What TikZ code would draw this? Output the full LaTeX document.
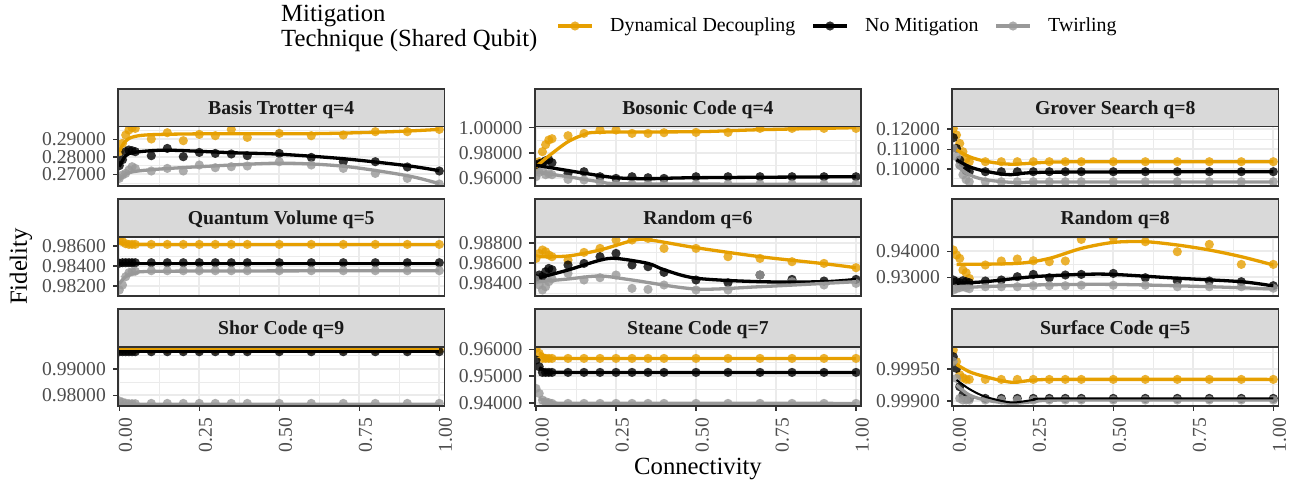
\documentclass[tikz,border=0pt]{standalone}
\usepackage{fontspec}
\setmainfont{Liberation Serif}

\definecolor{ddorange}{HTML}{E69F00}
\definecolor{twgray}{HTML}{999999}
\definecolor{gridgray}{HTML}{EBEBEB}
\definecolor{stripgray}{HTML}{D9D9D9}
\definecolor{framegray}{HTML}{333333}
\definecolor{labelgray}{HTML}{4D4D4D}

% connectivity values of the measured points
\newcommand{\connlist}{{0,0.01,0.02,0.03,0.04,0.05,0.1,0.15,0.2,0.25,0.3,0.35,0.4,0.5,0.6,0.7,0.8,0.9,1}}
\newcommand{\pointrow}[2]{%
  \foreach \v [count=\i from 0] in {#2} {%
    \pgfmathsetmacro{\cval}{\connlist[\i]}%
    \fill[#1] (\cval,\v) circle[radius=4.6pt];}}

\begin{document}
\begin{tikzpicture}[
      x=1pt, y=-1pt,
      every node/.style={inner sep=0pt},
      ticklabel/.style={font=\fontsize{19.6}{22}\selectfont, text=labelgray},
      striptext/.style={font=\fontsize{19.7}{22}\selectfont\bfseries, text=black!90},
      titletext/.style={font=\fontsize{24.7}{28}\selectfont},
      legendtext/.style={font=\fontsize{19.9}{22}\selectfont},
      panel at/.style 2 args={xshift=#1pt, yshift=-#2pt, x=320pt, y=-1pt},
      majorgrid/.style={draw=gridgray, line width=2pt},
      minorgrid/.style={draw=gridgray, line width=1pt},
      stripbox/.style={fill=stripgray, draw=framegray, line width=1.6pt},
      panelframe/.style={draw=framegray, line width=1.6pt},
      tickmark/.style={draw=framegray, line width=1.6pt},
      ddpt/.style={fill=ddorange, fill opacity=0.8},
      nmpt/.style={fill=black, fill opacity=0.8},
      twpt/.style={fill=twgray, fill opacity=0.8},
      ddline/.style={draw=ddorange, line width=3.3pt},
      nmline/.style={draw=black, line width=3.3pt},
      twline/.style={draw=twgray, line width=3.3pt}
]
\fill[white] (0,0) rectangle (1300,484);
\useasboundingbox (0,0) rectangle (1300,484);

% legend
\node[titletext, anchor=base west] (legtitle1) at (281,21.7) {Mitigation};
\node[titletext, anchor=base west] (legtitle2) at (281,46.7) {Technique (Shared Qubit)};
\draw[ddline] (558,26) -- (592,26);
\fill[ddpt] (575,26) circle[radius=4.6pt];
\node[legendtext, anchor=base west] (leg-dd) at (610,31.7) {Dynamical Decoupling};
\draw[nmline] (813,26) -- (847,26);
\fill[nmpt] (830,26) circle[radius=4.6pt];
\node[legendtext, anchor=base west] (leg-nm) at (865,31.7) {No Mitigation};
\draw[twline] (996,26) -- (1030,26);
\fill[twpt] (1013,26) circle[radius=4.6pt];
\node[legendtext, anchor=base west] (leg-tw) at (1048,31.7) {Twirling};

% panels: background, grid, strip, y axis
\foreach \name/\ox/\oy/\title/\ticks/\minor in {
  bt/119.3/126.7/{Basis Trotter q=4}/{12.6/0.29000,30.1/0.28000,47.6/0.27000}/{3.85,21.35,38.85,56.35},
  bc/536/126.7/{Bosonic Code q=4}/{1/1.00000,26/0.98000,51/0.96000}/{13.5,38.5},
  gs/953.3/126.7/{Grover Search q=8}/{2.6/0.12000,22.6/0.11000,42.3/0.10000}/{12.6,32.5,52.2},
  qv/119.3/236.7/{Quantum Volume q=5}/{9.3/0.98600,29.3/0.98400,49.3/0.98200}/{19.3,39.3},
  rs/536/236.7/{Random q=6}/{6/0.98800,26.3/0.98600,46.6/0.98400}/{16.1,36.4,56.8},
  re/953.3/236.7/{Random q=8}/{14.6/0.94000,40.6/0.93000}/{1.6,27.6,53.6},
  sh/119.3/346.7/{Shor Code q=9}/{22/0.99000,48.6/0.98000}/{8.7,35.3},
  st/536/346.7/{Steane Code q=7}/{2.6/0.96000,29.3/0.95000,56/0.94000}/{16,42.6},
  su/953.3/346.7/{Surface Code q=5}/{22/0.99950,54/0.99900}/{6,38}} {
  \begin{scope}[panel at={\ox}{\oy}]
    \fill[white] (-0.004,0) rectangle (1.016,59);
    \foreach \g in {0.125,0.375,0.625,0.875} \draw[minorgrid] (\g,0) -- (\g,59);
    \foreach \g in \minor \draw[minorgrid] (-0.004,\g) -- (1.016,\g);
    \foreach \g in {0,0.25,0.5,0.75,1} \draw[majorgrid] (\g,0) -- (\g,59);
    \foreach \o/\l [count=\k] in \ticks {
      \draw[majorgrid] (-0.004,\o) -- (1.016,\o);
      \draw[tickmark] (-0.004,\o) -- ++(-5.5pt,0);
      \node[ticklabel, anchor=east, xshift=-12pt] (\name-y\k) at (-0.004,\o) {\l};
    }
    \draw[stripbox] (-0.004,-37.7) rectangle (1.016,0);
    \node[striptext, anchor=base] (\name-title) at (0.506,-12.7) {\title};
  \end{scope}
}

% Basis Trotter q=4
\begin{scope}[panel at={119.3}{126.7}]
  \clip (-0.004,0) rectangle (1.016,59);
  \pointrow{ddpt}{25,16.7,8.3,3.3,1,1.7,12.3,6,14,7.7,9,2.7,10.7,6.7,9,8.3,5,5,2.7}
  \pointrow{nmpt}{39,33,25,23.3,24,25,29,21.7,30,25.7,26.7,27.3,29,26.7,30.7,35,35,40.3,44.3}
  \pointrow{twpt}{51.7,48.3,46.7,43.3,40,41.7,44.3,41.7,44.3,38.3,41,40,39.3,35,38.3,41.7,46.7,51.7,57.3}
  \draw[ddline] plot[smooth] coordinates {(0,25) (0.015,16) (0.04,10.5) (0.1,8) (0.3,7) (0.6,7) (0.85,5) (1,2.7)};
  \draw[nmline] plot[smooth] coordinates {(0,40) (0.02,29) (0.05,25.5) (0.15,23.5) (0.35,26) (0.5,27.5) (0.7,32) (0.9,39) (1,44)};
  \draw[twline] plot[smooth] coordinates {(0,53) (0.03,46) (0.1,43) (0.25,40) (0.5,36.5) (0.7,39.5) (0.9,49) (1,57)};
\end{scope}

% Bosonic Code q=4
\begin{scope}[panel at={536}{126.7}]
  \clip (-0.004,0) rectangle (1.016,59);
  \pointrow{ddpt}{40,35,25,18,13.3,12,9,6.7,3.3,3.3,6.7,6.7,6,5.7,5.7,1.7,1.7,1.7,1.7}
  \pointrow{nmpt}{38.3,37,36,34,33,36,46.7,45,50,51.7,50,51,51.7,50,50,50,50,50,50}
  \pointrow{twpt}{50,45.7,43.3,48,47,48,52.7,53.3,55.7,57.3,57.3,57.3,57.3,57.3,57.3,57.3,57.3,57.3,57.3}
  \draw[ddline] plot[smooth] coordinates {(0,40) (0.045,28) (0.1,15) (0.15,8) (0.2,5.5) (0.5,5) (0.7,3) (1,1)};
  \draw[nmline] plot[smooth] coordinates {(0,38.5) (0.15,46.5) (0.25,51) (0.35,52) (0.5,51) (1,50)};
  \draw[twline] plot[smooth] coordinates {(0,45.5) (0.1,50) (0.2,55) (0.3,57.2) (1,57.5)};
\end{scope}

% Grover Search q=8
\begin{scope}[panel at={953.3}{126.7}]
  \clip (-0.004,0) rectangle (1.016,59);
  \pointrow{ddpt}{1.7,8.3,16.7,25,32,35,35,35,35,35,35,35,35,35,35,35,35,35,35}
  \pointrow{nmpt}{11,21.7,33.3,40,44,45,45,45,45,45,45,45,45,45,45,45,45,45,45}
  \pointrow{twpt}{21.7,30,38.3,48,53,55,55,55,55,55,55,55,55,55,55,55,55,55,55}
  \draw[ddline] plot[smooth] coordinates {(0.01,23) (0.05,30) (0.1,34.5) (0.18,37.5) (0.3,35.5) (0.45,35) (1,35)};
  \draw[nmline] plot[smooth] coordinates {(0.01,33) (0.05,40) (0.1,44.5) (0.18,48) (0.3,45.5) (1,45)};
  \draw[twline] plot[smooth] coordinates {(0.01,39) (0.05,48) (0.1,53) (0.2,56) (0.3,55.3) (1,55.3)};
\end{scope}

% Quantum Volume q=5
\begin{scope}[panel at={119.3}{236.7}]
  \clip (-0.004,0) rectangle (1.016,59);
  \pointrow{ddpt}{2.3,5,7,7.7,7.7,7.7,7.7,7.7,7.7,7.7,7.7,7.7,7.7,7.7,7.7,7.7,7.7,7.7,7.7}
  \pointrow{nmpt}{26.5,26,26,26,26,26,26,26,26,26,26,26,26,26,26,26,26,26,26}
  \pointrow{twpt}{53.3,48.3,40,36,35,34.5,34,34,34,34,34,34,34,34,34,34,34,34,34}
  \draw[ddline] plot[smooth] coordinates {(0,6) (0.03,7.5) (0.1,7.7) (1,7.7)};
  \draw[nmline] plot[smooth] coordinates {(0,26.5) (1,26.5)};
  \draw[twline] plot[smooth] coordinates {(0,47) (0.02,40) (0.05,36.5) (0.15,34.5) (1,34)};
\end{scope}

% Random q=6
\begin{scope}[panel at={536}{236.7}]
  \clip (-0.004,0) rectangle (1.016,59);
  \pointrow{ddpt}{21.7,16.7,13.3,15,18.3,20,23.3,15.7,11.7,3.3,3.3,1.7,11.7,11.7,20,21.7,25,26.7,31}
  \pointrow{nmpt}{41.7,38.3,40,35,31.7,33,28.3,26.7,20,16.7,28.3,30,35.7,43.3,46,38.3,42.7,44.3,42.7}
  \pointrow{twpt}{43.3,48.3,53.3,50,45,42,36.7,43.3,41,38.3,51.7,52.7,48.3,53.3,53.3,38.3,45,48.3,46.7}
  \draw[ddline] plot[smooth] coordinates {(0.01,20) (0.1,19.3) (0.2,13.3) (0.3,4) (0.35,3) (0.5,11) (0.7,20) (0.9,27) (1,31)};
  \draw[nmline] plot[smooth] coordinates {(0.01,41) (0.1,33.3) (0.2,23.5) (0.25,21.7) (0.35,26.7) (0.4,33) (0.5,41.5) (0.7,45) (0.9,45) (1,42.7)};
  \draw[twline] plot[smooth] coordinates {(0.01,45) (0.1,42.3) (0.2,39.3) (0.3,43.3) (0.5,52.3) (0.7,50) (1,45)};
\end{scope}

% Random q=8
\begin{scope}[panel at={953.3}{236.7}]
  \clip (-0.004,0) rectangle (1.016,59);
  \pointrow{ddpt}{13.3,18.3,21.7,33.3,36,41.7,28.3,24.3,22.3,24,25,24.3,2.7,1,5,15,7.7,27.7,27.7}
  \pointrow{nmpt}{43.3,45,46,44,45,46,44.3,43.3,40,37.7,41,38.3,37.7,36.7,41,44.3,44.3,45,49}
  \pointrow{twpt}{53.3,52,51,50,51,52,50,50,50,49,49,49,48.5,48.5,48.5,50,50,50,51.5}
  \draw[ddline] plot[smooth] coordinates {(0.01,27.7) (0.2,26.7) (0.3,21.7) (0.4,11.7) (0.5,5.7) (0.6,5) (0.7,8.3) (0.8,13.3) (0.9,20) (1,28.3)};
  \draw[nmline] plot[smooth] coordinates {(0.01,46.5) (0.1,45) (0.25,40) (0.4,37.7) (0.5,37.7) (0.7,41.5) (0.9,45) (1,49.3)};
  \draw[twline] plot[smooth] coordinates {(0.01,51) (0.25,48.3) (0.5,47.7) (0.8,50) (1,52.3)};
\end{scope}

% Shor Code q=9
\begin{scope}[panel at={119.3}{346.7}]
  \clip (-0.004,0) rectangle (1.016,59);
  \pointrow{ddpt}{2.7,2.7,2.7,2.7,2.7,2.7,2.7,2.7,2.7,2.7,2.7,2.7,2.7,2.7,2.7,2.7,2.7,2.7,2.7}
  \pointrow{nmpt}{5,5,5,5,5,5,5,5,5,5,5,5,5,5,5,5,5,5,5}
  \pointrow{twpt}{54.3,55.5,56.5,57,57,57,56.7,56.7,56.7,56.7,56.7,56.7,56.7,56.7,56.7,56.7,56.7,56.7,56.7}
  \draw[ddline] plot[smooth] coordinates {(0,2.7) (1,2.7)};
  \draw[nmline] plot[smooth] coordinates {(0,5) (1,5)};
  \draw[twline] plot[smooth] coordinates {(0,56) (0.05,57.5) (1,57.5)};
\end{scope}

% Steane Code q=7
\begin{scope}[panel at={536}{346.7}]
  \clip (-0.004,0) rectangle (1.016,59);
  \pointrow{ddpt}{1.7,6.7,11.7,11.7,11.7,11.7,11.7,11.7,11.7,11.7,11.7,11.7,11.7,11.7,11.7,11.7,11.7,11.7,11.7}
  \pointrow{nmpt}{13.3,20,25.7,25.7,25.7,25.7,25.7,25.7,25.7,25.7,25.7,25.7,25.7,25.7,25.7,25.7,25.7,25.7,25.7}
  \pointrow{twpt}{41.7,46.7,53.3,55,56,56.7,56.7,56.7,56.7,56.7,56.7,56.7,56.7,56.7,56.7,56.7,56.7,56.7,56.7}
  \draw[ddline] plot[smooth] coordinates {(0.01,6) (0.04,10.5) (0.1,11.7) (1,11.7)};
  \draw[nmline] plot[smooth] coordinates {(0.01,21) (0.04,25) (0.1,25.7) (1,25.7)};
  \draw[twline] plot[smooth] coordinates {(0.01,52) (0.05,55.5) (0.1,56.5) (1,56.7)};
\end{scope}

% Surface Code q=5
\begin{scope}[panel at={953.3}{346.7}]
  \clip (-0.004,0) rectangle (1.016,59);
  \pointrow{ddpt}{3.3,15,28,31,32.7,32.7,32.7,32.7,32.7,32.7,32.7,32.7,32.7,32.7,32.7,32.7,32.7,32.7,32.7}
  \pointrow{nmpt}{10,21.7,40,48,51.7,51.7,51.7,51.7,51.7,51.7,51.7,51.7,51.7,51.7,51.7,51.7,51.7,51.7,51.7}
  \pointrow{twpt}{15,31.7,51.7,53.3,53.3,53.3,53.3,53.3,53.3,53.3,53.3,53.3,53.3,53.3,53.3,53.3,53.3,53.3,53.3}
  \draw[ddline] plot[smooth] coordinates {(0.01,17.7) (0.05,25) (0.1,30) (0.18,35.5) (0.25,33.5) (0.35,32.7) (1,32.7)};
  \draw[twline] plot[smooth] coordinates {(0.01,38.3) (0.05,48.3) (0.1,53.3) (0.18,56.7) (0.25,55) (0.35,53.3) (1,53.3)};
  \draw[nmline, line width=2pt] plot[smooth] coordinates {(0.01,33.3) (0.05,42.3) (0.1,50) (0.18,55.7) (0.25,53.3) (0.32,51.7) (1,51.7)};
\end{scope}

% panel borders
\foreach \ox/\oy in {119.3/126.7, 536/126.7, 953.3/126.7, 119.3/236.7, 536/236.7,
    953.3/236.7, 119.3/346.7, 536/346.7, 953.3/346.7}
  \draw[panelframe, panel at={\ox}{\oy}] (-0.004,0) rectangle (1.016,59);

% x axis of the bottom row
\foreach \ox [count=\j] in {119.3,536,953.3} {
  \foreach \c/\l [count=\k] in {0/0.00,0.25/0.25,0.5/0.50,0.75/0.75,1/1.00} {
    \draw[tickmark] ({\ox+320*\c},405.7) -- ++(0,5.5);
    \node[ticklabel, rotate=90, anchor=east] (x\j-\k) at ({\ox+320*\c+6.3},417.5) {\l};
  }
}

% axis titles
\node[titletext, rotate=90, anchor=base] (ytitle) at (27,266.5) {Fidelity};
\node[titletext, anchor=base] (xtitle) at (698,474.5) {Connectivity};
\end{tikzpicture}
\end{document}
